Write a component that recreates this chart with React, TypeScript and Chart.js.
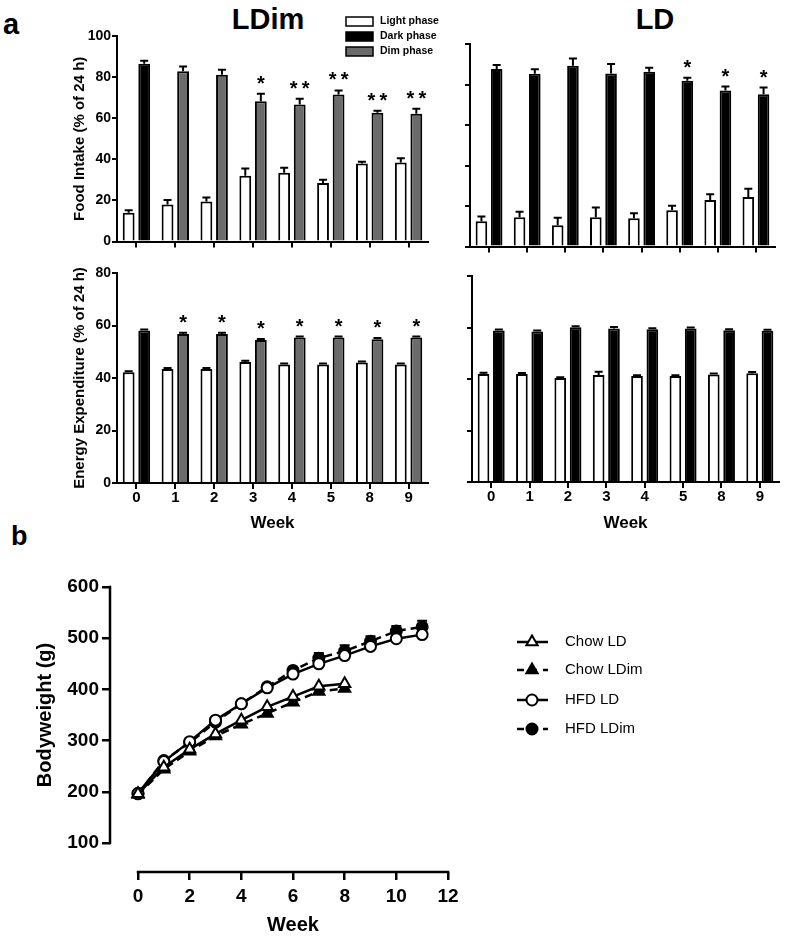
import React, { useEffect, useRef } from 'react';
import { Chart, registerables } from 'chart.js';

Chart.register(...registerables);

const FONT = "'Liberation Sans', Arial, Helvetica, sans-serif";

// ---------- Data ----------
const weekLabels = ['0', '1', '2', '3', '4', '5', '8', '9'];

// Food intake, LDim
const foodLDimLight = [14, 18, 19.5, 32, 33.5, 28.5, 38, 38.5];
const foodLDimLightErr = [1.3, 2.2, 2, 3.5, 2.4, 1.6, 0.8, 2];
const foodLDimDark = [86.5, 82.8, 81.2, 68.3, 66.7, 71.5, 62.7, 62.2];
const foodLDimDarkErr = [1.5, 2.4, 2.4, 3.6, 2.8, 2, 1, 2.4];
const foodLDimStars = ['', '', '', '*', '**', '**', '**', '**'];

// Food intake, LD
const foodLDLight = [12.5, 14.5, 10.5, 14.5, 14, 18, 23, 24.5];
const foodLDLightErr = [2.3, 2.7, 3.8, 4.8, 2.4, 2.2, 2.8, 4];
const foodLDDark = [87.6, 85.3, 89.3, 85.5, 86.3, 81.8, 77, 75.2];
const foodLDDarkErr = [2, 2.2, 3.5, 4.6, 2, 1.6, 2, 3.3];
const foodLDStars = ['', '', '', '', '', '*', '*', '*'];

// Energy expenditure, LDim
const eeLDimLight = [42.2, 43.4, 43.4, 46.1, 45.1, 45.1, 45.9, 45.1];
const eeLDimLightErr = [0.4, 0.4, 0.4, 0.5, 0.4, 0.4, 0.4, 0.4];
const eeLDimDark = [58.1, 56.8, 56.8, 54.5, 55.4, 55.4, 54.8, 55.4];
const eeLDimDarkErr = [0.4, 0.4, 0.4, 0.4, 0.4, 0.4, 0.4, 0.4];
const eeLDimStars = ['', '*', '*', '*', '*', '*', '*', '*'];

// Energy expenditure, LD
const eeLDLight = [41.9, 41.9, 40.4, 41.6, 41.2, 41.2, 41.7, 42.2];
const eeLDLightErr = [0.5, 0.4, 0.3, 1.2, 0.3, 0.3, 0.4, 0.5];
const eeLDDark = [58.8, 58.4, 60.1, 59.6, 59.3, 59.6, 58.9, 58.7];
const eeLDDarkErr = [0.4, 0.4, 0.4, 0.6, 0.4, 0.4, 0.4, 0.4];
const eeLDStars = ['', '', '', '', '', '', '', ''];

// Bodyweight
const bwWeeks = [0, 1, 2, 3, 4, 5, 6, 7, 8, 9, 10, 11];
const chowLD = [196, 248, 283, 313, 340, 366, 386, 406, 411];
const chowLDim = [195, 244, 279, 309, 332, 353, 375, 396, 402];
const hfdLD = [197, 259, 298, 340, 372, 403, 430, 450, 466, 484, 499, 507];
const hfdLDim = [196, 261, 296, 336, 372, 405, 437, 461, 475, 494, 514, 522];
const hfdLDimErr = [2, 3, 3, 3, 4, 5, 6, 10, 11, 10, 10, 12];
const bwXTicks = [0, 2, 4, 6, 8, 10, 12];
const bwYTicks = [100, 200, 300, 400, 500, 600];

const barLegendLabels = ['Light phase', 'Dark phase', 'Dim phase'];
const lineLegendLabels = ['Chow LD', 'Chow LDim', 'HFD LD', 'HFD LDim'];

const GRAY = '#6b6b6b';

// ---------- Plugins ----------
const errorBarPlugin = {
  id: 'errorBars',
  beforeDatasetsDraw(chart: any) {
    const ctx = chart.ctx;
    chart.data.datasets.forEach((ds: any, di: number) => {
      if (!ds.errors) return;
      const meta = chart.getDatasetMeta(di);
      const yScale = chart.scales[meta.yAxisID || 'y'];
      ctx.save();
      ctx.strokeStyle = '#000';
      ctx.lineWidth = ds.errLineWidth || 2;
      const cap = ds.capHalf || 4;
      meta.data.forEach((el: any, i: number) => {
        const raw = ds.data[i];
        const val = typeof raw === 'number' ? raw : raw.y;
        const e = ds.errors[i];
        if (!e) return;
        const x = el.x;
        const y0 = yScale.getPixelForValue(val);
        const y1 = yScale.getPixelForValue(val + e);
        ctx.beginPath();
        ctx.moveTo(x, y0);
        ctx.lineTo(x, y1);
        ctx.moveTo(x - cap, y1);
        ctx.lineTo(x + cap, y1);
        ctx.stroke();
      });
      ctx.restore();
    });
  },
  afterDatasetsDraw(chart: any) {
    const ctx = chart.ctx;
    chart.data.datasets.forEach((ds: any, di: number) => {
      if (!ds.stars) return;
      const meta = chart.getDatasetMeta(di);
      const yScale = chart.scales[meta.yAxisID || 'y'];
      ctx.save();
      ctx.fillStyle = '#000';
      ctx.font = `bold 20px ${FONT}`;
      ctx.textAlign = 'center';
      ctx.textBaseline = 'alphabetic';
      meta.data.forEach((el: any, i: number) => {
        const s = ds.stars[i];
        if (!s) return;
        const val = ds.data[i] + (ds.errors ? ds.errors[i] : 0);
        const y = yScale.getPixelForValue(val) - 4;
        if (s === '**') {
          ctx.fillText('*', el.x - 6, y);
          ctx.fillText('*', el.x + 6, y);
        } else {
          ctx.fillText(s, el.x, y);
        }
      });
      ctx.restore();
    });
  },
};

// bar legend (drawn in first chart; page coords offset)
const barLegendPlugin = {
  id: 'barLegend',
  afterDraw(chart: any) {
    const ctx = chart.ctx;
    const ox = 60, oy = 0;
    const fills = ['#ffffff', '#000000', GRAY];
    const rows = [21.5, 36.5, 51.5];
    ctx.save();
    barLegendLabels.forEach((lab, i) => {
      const cy = rows[i] - oy;
      ctx.fillStyle = fills[i];
      ctx.fillRect(346 - ox, cy - 4.5, 27, 9);
      ctx.strokeStyle = '#000';
      ctx.lineWidth = 1.5;
      ctx.strokeRect(346 - ox, cy - 4.5, 27, 9);
      ctx.fillStyle = '#000';
      ctx.font = `bold 10.5px ${FONT}`;
      ctx.textAlign = 'left';
      ctx.textBaseline = 'middle';
      ctx.fillText(lab, 380 - ox, cy);
    });
    ctx.restore();
  },
};

function drawMarker(ctx: any, style: string, x: number, y: number, r: number, fill: string) {
  ctx.beginPath();
  if (style === 'triangle') {
    let rad = 0;
    const TWO_THIRDS_PI = (Math.PI * 2) / 3;
    ctx.moveTo(x + Math.sin(rad) * r, y - Math.cos(rad) * r);
    rad += TWO_THIRDS_PI;
    ctx.lineTo(x + Math.sin(rad) * r, y - Math.cos(rad) * r);
    rad += TWO_THIRDS_PI;
    ctx.lineTo(x + Math.sin(rad) * r, y - Math.cos(rad) * r);
    ctx.closePath();
  } else {
    ctx.arc(x, y, r, 0, Math.PI * 2);
  }
  ctx.fillStyle = fill;
  ctx.fill();
  ctx.lineWidth = 2;
  ctx.strokeStyle = '#000';
  ctx.stroke();
}

const lineDecorPlugin = {
  id: 'lineDecor',
  afterDraw(chart: any) {
    const { ctx, chartArea } = chart;
    const xs = chart.scales.x;
    const ys = chart.scales.y;
    const ox = 20, oy = 560;
    ctx.save();
    // axis lines (detached, GraphPad style)
    ctx.strokeStyle = '#000';
    ctx.lineWidth = 2.5;
    ctx.beginPath();
    ctx.moveTo(chartArea.left, ys.getPixelForValue(bwYTicks[0]) + 1.25);
    ctx.lineTo(chartArea.left, ys.getPixelForValue(bwYTicks[bwYTicks.length - 1]) - 1.25);
    ctx.stroke();
    ctx.beginPath();
    ctx.moveTo(xs.getPixelForValue(bwXTicks[0]) - 1.25, chartArea.bottom);
    ctx.lineTo(xs.getPixelForValue(bwXTicks[bwXTicks.length - 1]) + 1.25, chartArea.bottom);
    ctx.stroke();

    // axis titles
    ctx.fillStyle = '#000';
    ctx.font = `bold 20px ${FONT}`;
    ctx.textAlign = 'center';
    ctx.textBaseline = 'middle';
    ctx.save();
    ctx.translate(45 - ox, (ys.getPixelForValue(100) + ys.getPixelForValue(600)) / 2);
    ctx.rotate(-Math.PI / 2);
    ctx.fillText('Bodyweight (g)', 0, 0);
    ctx.restore();
    ctx.fillText('Week', (xs.getPixelForValue(0) + xs.getPixelForValue(12)) / 2, 925 - oy);

    // legend
    const rows = [642, 670, 700, 729];
    chart.data.datasets.forEach((ds: any, i: number) => {
      const cy = rows[i] - oy;
      ctx.save();
      ctx.strokeStyle = '#000';
      ctx.lineWidth = 2.5;
      ctx.setLineDash(ds.borderDash && ds.borderDash.length ? [7, 6] : []);
      ctx.beginPath();
      ctx.moveTo(517 - ox, cy);
      ctx.lineTo(548 - ox, cy);
      ctx.stroke();
      ctx.setLineDash([]);
      drawMarker(ctx, ds.pointStyle, 532 - ox, cy, ds.pointStyle === 'triangle' ? 6.5 : 5.5, ds.pointBackgroundColor);
      ctx.fillStyle = '#000';
      ctx.font = `15px ${FONT}`;
      ctx.textAlign = 'left';
      ctx.textBaseline = 'middle';
      ctx.fillText(ds.label, 565 - ox, cy);
      ctx.restore();
    });
    ctx.restore();
  },
};

// ---------- Config builders ----------
type BarOpts = {
  light: number[];
  lightErr: number[];
  dark: number[];
  darkErr: number[];
  stars: string[];
  dimColors: boolean;
  yMax: number;
  yTitle?: string;
  showXLabels: boolean;
  yWidth: number;
  xHeight: number;
  padTop: number;
  padRight: number;
  legend?: boolean;
};

function barConfig(o: BarOpts): any {
  const darkColors = o.dark.map((_, i) => (o.dimColors && i > 0 ? GRAY : '#000'));
  return {
    type: 'bar',
    data: {
      labels: weekLabels,
      datasets: [
        {
          label: barLegendLabels[0],
          data: o.light,
          errors: o.lightErr,
          backgroundColor: '#fff',
          borderColor: '#000',
          borderWidth: 2,
          categoryPercentage: 0.8,
          barPercentage: 0.76,
        },
        {
          label: barLegendLabels[1],
          data: o.dark,
          errors: o.darkErr,
          stars: o.stars,
          backgroundColor: darkColors,
          borderColor: '#000',
          borderWidth: 2,
          categoryPercentage: 0.8,
          barPercentage: 0.76,
        },
      ],
    },
    options: {
      animation: false,
      responsive: false,
      maintainAspectRatio: false,
      layout: { padding: { top: o.padTop, right: o.padRight, left: 0, bottom: 0 }, autoPadding: false },
      plugins: { legend: { display: false }, tooltip: { enabled: false }, title: { display: false } },
      scales: {
        x: {
          offset: true,
          grid: { display: true, drawOnChartArea: false, drawTicks: true, tickLength: 6, color: '#000', lineWidth: 2, offset: false },
          border: { display: true, color: '#000', width: 2 },
          ticks: {
            display: o.showXLabels,
            color: '#000',
            padding: 0,
            font: { family: FONT, size: 15, weight: 'bold' },
          },
          title: {
            display: o.showXLabels,
            text: 'Week',
            color: '#000',
            font: { family: FONT, size: 17, weight: 'bold' },
            padding: { top: 0, bottom: 6 },
          },
          afterFit: (s: any) => {
            s.height = o.xHeight;
          },
        },
        y: {
          min: 0,
          max: o.yMax,
          grid: { display: true, drawOnChartArea: false, drawTicks: true, tickLength: 5, color: '#000', lineWidth: 2 },
          border: { display: true, color: '#000', width: 2 },
          ticks: {
            stepSize: 20,
            color: '#000',
            padding: 1,
            font: { family: FONT, size: 14, weight: 'bold' },
            callback: (v: any) => (o.yTitle ? String(v) : ''),
          },
          title: {
            display: !!o.yTitle,
            text: o.yTitle || '',
            color: '#000',
            font: { family: FONT, size: 15, weight: 'bold' },
            padding: { top: 11, bottom: 0 },
          },
          afterFit: (s: any) => {
            s.width = o.yWidth;
          },
        },
      },
    },
    plugins: o.legend ? [errorBarPlugin, barLegendPlugin] : [errorBarPlugin],
  };
}

function lineConfig(): any {
  const mk = (ys: number[]) => ys.map((y, i) => ({ x: bwWeeks[i], y }));
  const common = {
    borderColor: '#000',
    borderWidth: 2.5,
    pointBorderColor: '#000',
    pointBorderWidth: 2,
    tension: 0,
    clip: false,
    fill: false,
  };
  return {
    type: 'line',
    data: {
      datasets: [
        { ...common, label: lineLegendLabels[0], data: mk(chowLD), pointStyle: 'triangle', pointRadius: 6.5, pointBackgroundColor: '#fff', borderDash: [] },
        { ...common, label: lineLegendLabels[1], data: mk(chowLDim), pointStyle: 'triangle', pointRadius: 6.5, pointBackgroundColor: '#000', borderDash: [8, 5] },
        { ...common, label: lineLegendLabels[2], data: mk(hfdLD), pointStyle: 'circle', pointRadius: 5.5, pointBackgroundColor: '#fff', borderDash: [] },
        {
          ...common,
          label: lineLegendLabels[3],
          data: mk(hfdLDim),
          errors: hfdLDimErr,
          errLineWidth: 2,
          capHalf: 5,
          pointStyle: 'circle',
          pointRadius: 5.5,
          pointBackgroundColor: '#000',
          borderDash: [8, 5],
        },
      ],
    },
    options: {
      animation: false,
      responsive: false,
      maintainAspectRatio: false,
      layout: { padding: { top: 27, right: 339, left: 0, bottom: 0 }, autoPadding: false },
      plugins: { legend: { display: false }, tooltip: { enabled: false } },
      scales: {
        x: {
          type: 'linear',
          min: -1.084,
          max: 12,
          afterBuildTicks: (s: any) => {
            s.ticks = bwXTicks.map((v) => ({ value: v }));
          },
          grid: { display: true, drawOnChartArea: false, drawTicks: true, tickLength: 8, color: '#000', lineWidth: 2.5 },
          border: { display: false },
          ticks: { color: '#000', padding: 5, font: { family: FONT, size: 19, weight: 'bold' } },
          afterFit: (s: any) => {
            s.height = 67;
          },
        },
        y: {
          type: 'linear',
          min: 43.4,
          max: 600,
          afterBuildTicks: (s: any) => {
            s.ticks = bwYTicks.map((v) => ({ value: v }));
          },
          grid: { display: true, drawOnChartArea: false, drawTicks: true, tickLength: 8, color: '#000', lineWidth: 2.5 },
          border: { display: false },
          ticks: { color: '#000', padding: 3, font: { family: FONT, size: 19, weight: 'bold' } },
          afterFit: (s: any) => {
            s.width = 90;
          },
        },
      },
    },
    plugins: [errorBarPlugin, lineDecorPlugin],
  };
}

// ---------- Components ----------
function ChartCanvas(props: { make: () => any; left: number; top: number; width: number; height: number }) {
  const ref = useRef<HTMLCanvasElement>(null);
  useEffect(() => {
    if (!ref.current) return;
    const chart = new Chart(ref.current, props.make());
    return () => chart.destroy();
  }, []);
  return (
    <canvas
      ref={ref}
      width={props.width}
      height={props.height}
      style={{ position: 'absolute', left: props.left, top: props.top, width: props.width, height: props.height, display: 'block' }}
    />
  );
}

function Label(props: { text: string; size: number; baseline: number; left?: number; center?: number }) {
  const top = props.baseline - 0.8465 * props.size;
  const style: any = {
    position: 'absolute',
    top,
    fontFamily: FONT,
    fontWeight: 'bold',
    fontSize: props.size,
    lineHeight: `${props.size}px`,
    color: '#000',
    whiteSpace: 'nowrap',
  };
  if (props.center !== undefined) {
    style.left = props.center - 150;
    style.width = 300;
    style.textAlign = 'center';
  } else {
    style.left = props.left;
  }
  return <div style={style}>{props.text}</div>;
}

export default function App() {
  return (
    <div style={{ position: 'absolute', left: 0, top: 0, width: 787, height: 939, background: '#fff', overflow: 'hidden' }}>
      <Label text="a" size={29} baseline={35} left={3} />
      <Label text="LDim" size={29} baseline={30} center={268} />
      <Label text="LD" size={29} baseline={30} center={655} />
      <Label text="b" size={27} baseline={546} left={11} />

      <ChartCanvas
        left={60}
        top={0}
        width={395}
        height={251}
        make={() =>
          barConfig({
            light: foodLDimLight,
            lightErr: foodLDimLightErr,
            dark: foodLDimDark,
            darkErr: foodLDimDarkErr,
            stars: foodLDimStars,
            dimColors: true,
            yMax: 100,
            yTitle: 'Food Intake (% of 24 h)',
            showXLabels: false,
            yWidth: 57,
            xHeight: 8,
            padTop: 36,
            padRight: 27,
            legend: true,
          })
        }
      />
      <ChartCanvas
        left={440}
        top={0}
        width={342}
        height={256}
        make={() =>
          barConfig({
            light: foodLDLight,
            lightErr: foodLDLightErr,
            dark: foodLDDark,
            darkErr: foodLDDarkErr,
            stars: foodLDStars,
            dimColors: false,
            yMax: 100,
            showXLabels: false,
            yWidth: 30,
            xHeight: 8,
            padTop: 44,
            padRight: 7,
          })
        }
      />
      <ChartCanvas
        left={60}
        top={258}
        width={375}
        height={282}
        make={() =>
          barConfig({
            light: eeLDimLight,
            lightErr: eeLDimLightErr,
            dark: eeLDimDark,
            darkErr: eeLDimDarkErr,
            stars: eeLDimStars,
            dimColors: true,
            yMax: 80,
            yTitle: 'Energy Expenditure (% of 24 h)',
            showXLabels: true,
            yWidth: 57,
            xHeight: 57,
            padTop: 15,
            padRight: 7,
          })
        }
      />
      <ChartCanvas
        left={442}
        top={258}
        width={344}
        height={282}
        make={() =>
          barConfig({
            light: eeLDLight,
            lightErr: eeLDLightErr,
            dark: eeLDDark,
            darkErr: eeLDDarkErr,
            stars: eeLDStars,
            dimColors: false,
            yMax: 80,
            showXLabels: true,
            yWidth: 30,
            xHeight: 58,
            padTop: 18,
            padRight: 7,
          })
        }
      />
      <ChartCanvas left={20} top={560} width={767} height={379} make={lineConfig} />
    </div>
  );
}
